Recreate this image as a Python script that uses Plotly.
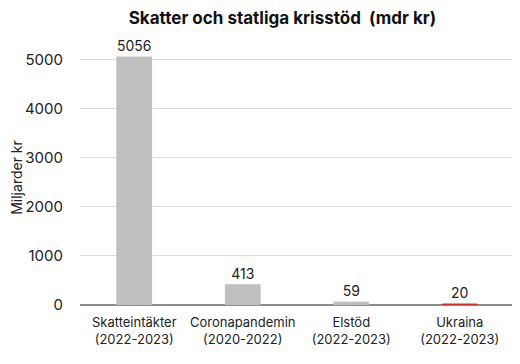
import plotly.graph_objects as go

categories = ["Skatteintäkter<br>(2022-2023)", "Coronapandemin<br>(2020-2022)",
              "Elstöd<br>(2022-2023)", "Ukraina<br>(2022-2023)"]
values = [5056, 413, 59, 20]
colors = ["#bfbfbf", "#bfbfbf", "#bfbfbf", "#d9262a"]
tick_vals = [0, 1000, 2000, 3000, 4000, 5000]

font = "Inter, Open Sans, sans-serif"

fig = go.Figure(go.Bar(
    x=categories, y=values, marker_color=colors, width=0.32,
    marker_line_color=colors, marker_line_width=1,
    text=[str(v) for v in values], textposition="outside",
    textfont=dict(size=14, color="#222222", family=font),
    cliponaxis=False,
))

# page body has an 8px margin: compensate so the chart sits like the reference
fig.update_layout(
    width=512, height=356,
    margin=dict(l=72, r=6, t=42, b=59),
    paper_bgcolor="white", plot_bgcolor="white",
    title=dict(text="<b>Skatter och statliga krisstöd  (mdr kr)</b>",
               x=0.536, xanchor="center", y=1 - 10 / 356, yanchor="middle",
               font=dict(size=17, color="#111111", family=font)),
    font=dict(family=font, color="#222222"),
    showlegend=False,
    bargap=0.68,
)
fig.update_xaxes(
    tickfont=dict(size=13, color="#222222"),
    showline=False, ticks="", showgrid=False, automargin=False,
    ticklabelstandoff=8,
)
fig.update_yaxes(
    range=[0, 5200], tickvals=tick_vals, ticktext=[str(t) for t in tick_vals],
    tickfont=dict(size=15, color="#222222"),
    showgrid=True, gridcolor="#dedede", gridwidth=1,
    zeroline=True, zerolinecolor="#8c8c8c", zerolinewidth=1.5,
    showline=False, ticks="", ticklen=0, automargin=False,
    ticklabelstandoff=16,
    title=dict(text="Miljarder kr", font=dict(size=14, color="#222222"), standoff=0),
)

fig.write_html("out.html")
